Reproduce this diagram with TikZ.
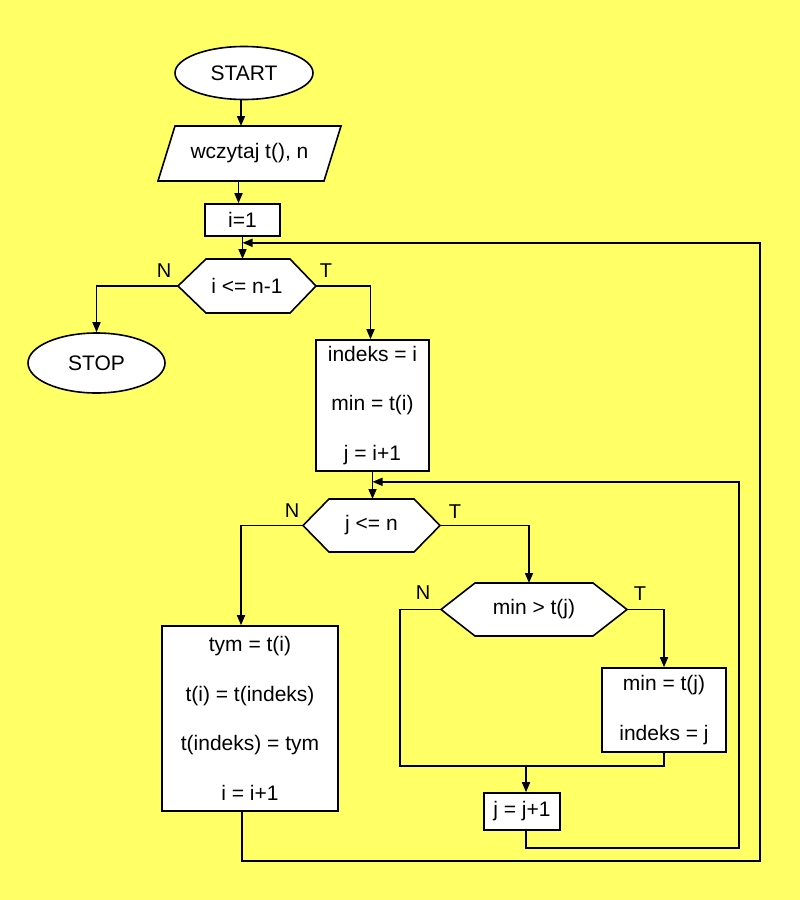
\documentclass[tikz,border=0pt]{standalone}
\usepackage{fontspec}
\setmainfont{Liberation Sans}
\usetikzlibrary{shapes.geometric,arrows.meta,calc,backgrounds}
\definecolor{bgyellow}{RGB}{255,255,102}
\begin{document}
\begin{tikzpicture}[x=1pt,y=-1pt,
  txt/.style={font=\fontsize{21}{49.5}\selectfont, align=center, inner sep=0pt},
  box/.style={txt, draw, line width=1.6pt, fill=white, rectangle},
  term/.style={txt, draw, line width=1.6pt, fill=white, ellipse},
  hexbox/.style={txt, rectangle, outer sep=0pt},
  outline/.style={draw, line width=1.6pt, fill=white, line join=miter},
  conn/.style={line width=1.6pt},
  arr/.style={conn, -{Triangle[length=10pt,width=8pt]}},
  lbl/.style={font=\fontsize{20}{24}\selectfont, inner sep=0pt}]
\begin{scope}[on background layer]
  \fill[bgyellow] (0,0) rectangle (800,900);
\end{scope}
\useasboundingbox (0,0) rectangle (800,900);

% nodes
\node[term, minimum width=138pt, minimum height=53pt] (start) at (244,73) {START};
\node[hexbox, minimum width=183pt, minimum height=55pt] (in) at (249.5,153.5) {wczytaj t(), n};
\node[box, minimum width=75pt, minimum height=32pt] (init) at (242.5,220) {i=1};
\node[hexbox, minimum width=138pt, minimum height=54pt] (h1) at (247,286) {i <= n-1};
\node[term, minimum width=137pt, minimum height=60pt] (stop) at (96.5,363) {STOP};
\node[box, minimum width=113pt, minimum height=131pt] (b1) at (372.5,405.5) {indeks = i\\min = t(i)\\j = i+1};
\node[hexbox, minimum width=137pt, minimum height=53pt] (h2) at (371.5,525.5) {j <= n};
\node[box, minimum width=176pt, minimum height=185pt] (b2) at (250,718.5) {tym = t(i)\\t(i) = t(indeks)\\t(indeks) = tym\\i = i+1};
\node[hexbox, minimum width=186pt, minimum height=53pt] (h3) at (534,609.5) {min > t(j)};
\node[box, minimum width=124pt, minimum height=84pt] (b3) at (664,710) {min = t(j)\\indeks = j};
\node[box, minimum width=76pt, minimum height=37pt] (b4) at (522,811.5) {j = j+1};

% outlines of parallelogram and hexagons
\begin{scope}[on background layer]
  \draw[outline] (in.south west) -- ([xshift=17pt]in.north west) -- (in.north east) -- ([xshift=-17pt]in.south east) -- cycle;
  \draw[outline] (h1.west) -- ([xshift=28pt]h1.north west) -- ([xshift=-26pt]h1.north east) -- (h1.east) -- ([xshift=-26pt]h1.south east) -- ([xshift=28pt]h1.south west) -- cycle;
  \draw[outline] (h2.west) -- ([xshift=26pt]h2.north west) -- ([xshift=-26pt]h2.north east) -- (h2.east) -- ([xshift=-26pt]h2.south east) -- ([xshift=26pt]h2.south west) -- cycle;
  \draw[outline] (h3.west) -- ([xshift=34pt]h3.north west) -- ([xshift=-34pt]h3.north east) -- (h3.east) -- ([xshift=-34pt]h3.south east) -- ([xshift=34pt]h3.south west) -- cycle;
\end{scope}

% labels
\node[lbl] (n1) at ($(h1.west)+(-14,-15)$) {N};
\node[lbl] (t1) at ($(h1.east)+(10,-15)$) {T};
\node[lbl] (n2) at ($(h2.west)+(-11,-15)$) {N};
\node[lbl] (t2) at ($(h2.east)+(15,-14)$) {T};
\node[lbl] (n3) at ($(h3.west)+(-18,-17)$) {N};
\node[lbl] (t3) at ($(h3.east)+(13,-16)$) {T};

% connectors
\draw[arr] ([xshift=-3pt]start.south) -- ([xshift=-3pt]start.south |- in.north);
\draw[arr] ([xshift=-4pt]init.north |- in.south) -- ([xshift=-4pt]init.north);
\draw[arr] (init.south) -- (init.south |- h1.north);
\draw[arr] (h1.west) -| (stop.north);
\draw[arr] (h1.east) -| ([xshift=-2pt]b1.north);
\draw[arr] (b1.south) -- (b1.south |- h2.north);
\draw[arr] (h2.west) -| ([xshift=-9pt]b2.north);
\draw[arr] (h2.east) -| ([xshift=-5pt]h3.north);
\draw[arr] (h3.east) -| (b3.north);
\coordinate (m1) at (400,766);
\draw[conn] (h3.west) -| (m1) -| (b3.south);
\draw[arr] ([xshift=4pt]b4.north |- m1) -- ([xshift=4pt]b4.north);
\coordinate (r2) at (739,848);
\draw[arr] ([xshift=4pt]b4.south) |- (r2) |- ($(b1.south)+(0,10)$);
\coordinate (r1) at (760,861);
\draw[arr] ([xshift=-8pt]b2.south) |- (r1) |- ($(init.south)+(0,6)$);
\end{tikzpicture}
\end{document}
